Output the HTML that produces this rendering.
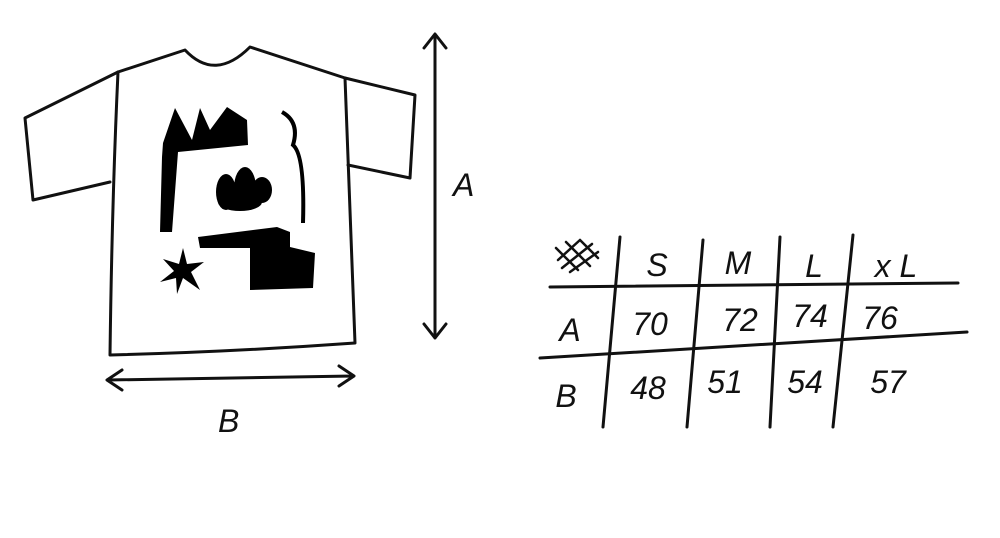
<!DOCTYPE html>
<html><head><style>
html,body{margin:0;padding:0;background:#fff;}
svg{display:block;}
text{font-family:"Liberation Sans",sans-serif;font-size:32px;fill:#111;font-style:italic;}
</style></head><body>
<svg width="1000" height="538" viewBox="0 0 1000 538" xmlns="http://www.w3.org/2000/svg">
<g fill="none" stroke="#111" stroke-width="3" stroke-linecap="round" stroke-linejoin="round">
<path d="M118,72 L185,50 Q215,82 250,47 L345,78 L415,95 L410,178 L348,165"/>
<path d="M118,72 L25,118 L33,200 L110,182"/>
<path d="M118,72 Q112,200 110,355 Q230,352 355,343 Q350,200 345,78"/>
<path d="M435,35 L435,338 M424,48 L435,34 L446,48 M424,324 L435,338 L446,324"/>
<path d="M108,380 L353,376 M122,370 L107,380 L122,390 M339,366 L354,376 L339,386"/>
<path d="M620,237 L603,427 M703,240 L687,427 M780,237 L770,427 M853,235 L833,427"/>
<path d="M550,287 L958,283 M540,358 L967,332"/>
<path d="M558,260 L580,240 M562,268 L592,244 M570,272 L598,252 M556,248 L578,270 M566,242 L590,266 M580,240 L598,258" stroke-width="2.5"/>
</g>
<g fill="#000">
<polygon points="163,143 175,108 192,140 200,108 210,130 227,107 247,120 248,145 178,152 172,232 160,232 162,157"/>
<ellipse cx="226" cy="192" rx="10" ry="18"/>
<ellipse cx="245" cy="188" rx="11" ry="21"/>
<ellipse cx="262" cy="190" rx="10" ry="13"/>
<ellipse cx="240" cy="202" rx="22" ry="9"/>
<polygon points="198,237 277,227 290,232 290,247 315,253 313,288 250,290 250,248 200,248"/>
<polygon points="183,248 187,264 204,262 191,272 200,290 183,278 177,294 176,278 160,282 174,271 163,259 179,264"/>
</g>
<path d="M282,112 Q300,122 293,145 Q305,155 303,223" fill="none" stroke="#000" stroke-width="4"/>
<text x="453" y="196">A</text>
<text x="218" y="432">B</text>
<g text-anchor="middle">
<text x="657" y="276">S</text><text x="738" y="274">M</text><text x="814" y="277">L</text><text x="896" y="277">x L</text>
<text x="570" y="341">A</text><text x="650" y="335">70</text><text x="740" y="331">72</text><text x="810" y="327">74</text><text x="880" y="329">76</text>
<text x="566" y="407">B</text><text x="648" y="399">48</text><text x="725" y="393">51</text><text x="805" y="393">54</text><text x="888" y="393">57</text>
</g>
</svg>
</body></html>
